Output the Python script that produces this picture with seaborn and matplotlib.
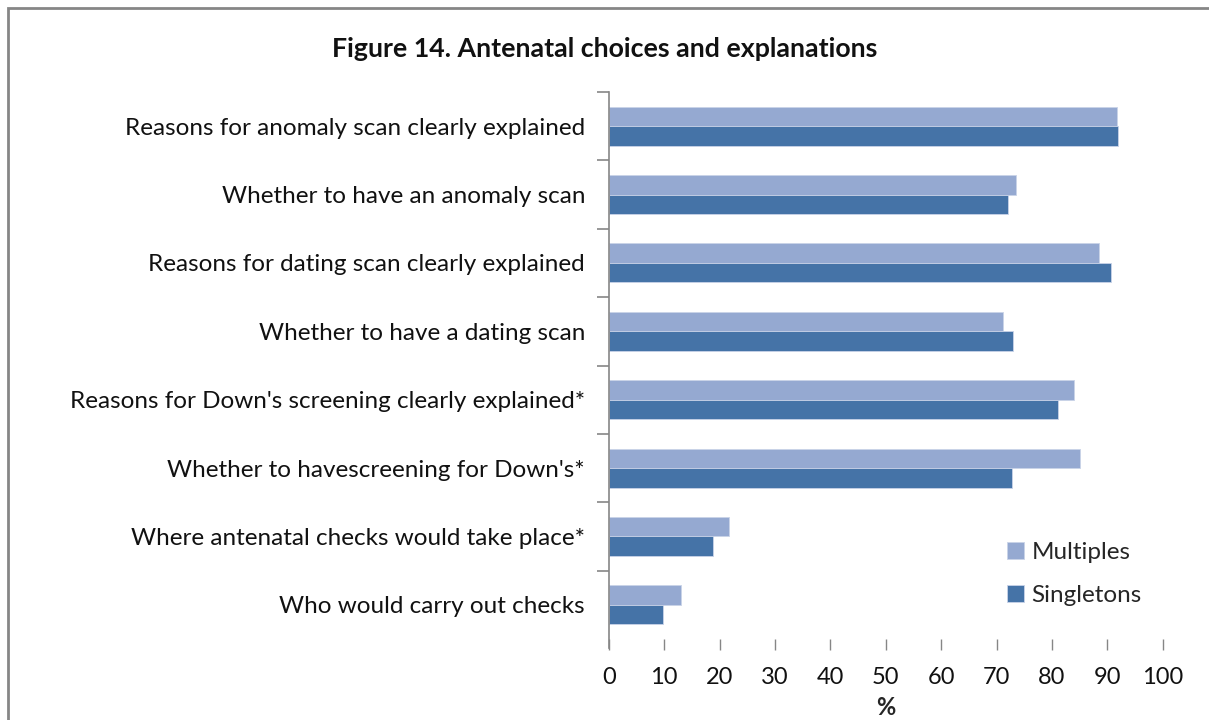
import matplotlib
matplotlib.use("Agg")
import numpy as np
import pandas as pd
import matplotlib.pyplot as plt
import seaborn as sns
from matplotlib.patches import Rectangle

categories = [
    "Reasons for anomaly scan clearly explained",
    "Whether to have an anomaly scan",
    "Reasons for dating scan clearly explained",
    "Whether to have a dating scan",
    "Reasons for Down's screening clearly explained*",
    "Whether to havescreening for Down's*",
    "Where antenatal checks would take place*",
    "Who would carry out checks",
]
multiples = [91.7, 73.5, 88.5, 71.2, 83.9, 85.1, 21.8, 13.0]
singletons = [92.0, 72.1, 90.6, 73.0, 81.1, 72.8, 18.8, 9.8]
groups = ["Multiples", "Singletons"]
x_ticks = list(range(0, 101, 10))

df = pd.DataFrame({
    "item": categories * 2,
    "group": [groups[0]] * len(categories) + [groups[1]] * len(categories),
    "pct": multiples + singletons,
})

sns.set_style("white")
plt.rcParams['font.family'] = ['Lato', 'DejaVu Sans']

grey = '#868686'
fig = plt.figure(figsize=(12.09, 7.2), dpi=100)
ax = fig.add_axes([0.5035, 0.1125, 0.4582, 0.7597])

sns.barplot(data=df, y="item", x="pct", hue="group",
            order=categories, hue_order=groups,
            palette=["#95a9d1", "#4573a7"], saturation=1, width=0.57,
            edgecolor="#c9d3e8", linewidth=0.6, ax=ax)

ax.set_xlim(0, 100)
ax.set_xticks(x_ticks)
# boundary ticks between categories (none at the very bottom)
ax.set_yticks(np.arange(-0.5, len(categories) - 1, 1), minor=True)
ax.tick_params(axis='y', which='major', left=True, length=0, pad=17,
               labelsize=17.5, labelcolor='#111111')
ax.tick_params(axis='y', which='minor', left=True, length=9, color=grey,
               direction='out', width=1.2)
ax.tick_params(axis='x', bottom=True, length=8, color=grey, direction='out', width=1.0,
               labelsize=17, labelcolor='#111111', pad=12)

for s in ['top', 'right', 'bottom']:
    ax.spines[s].set_visible(False)
ax.spines['left'].set_color(grey)
ax.spines['left'].set_linewidth(1.2)
ax.spines['left'].set_bounds(-0.5, 7.63)

ax.set_ylabel("")
ax.set_xlabel("%", fontsize=17, fontweight='bold', labelpad=6)

handles, labels = ax.get_legend_handles_labels()
ax.legend(handles, labels, loc='upper left', bbox_to_anchor=(0.815, 0.277),
          bbox_transform=fig.transFigure, frameon=False, fontsize=17.5,
          handlelength=0.7, handleheight=0.7, labelspacing=0.9, handletextpad=0.3)

fig.suptitle("Figure 14. Antenatal choices and explanations", x=0.5, y=0.948,
             fontsize=19.3, fontweight='bold', color='#111111')

fig.add_artist(Rectangle((8 / 1209, -0.05), 1.1, 1 - 8 / 720 + 0.05,
                         transform=fig.transFigure, fill=False,
                         edgecolor=grey, linewidth=2))

fig.savefig("out.png", dpi=100)
